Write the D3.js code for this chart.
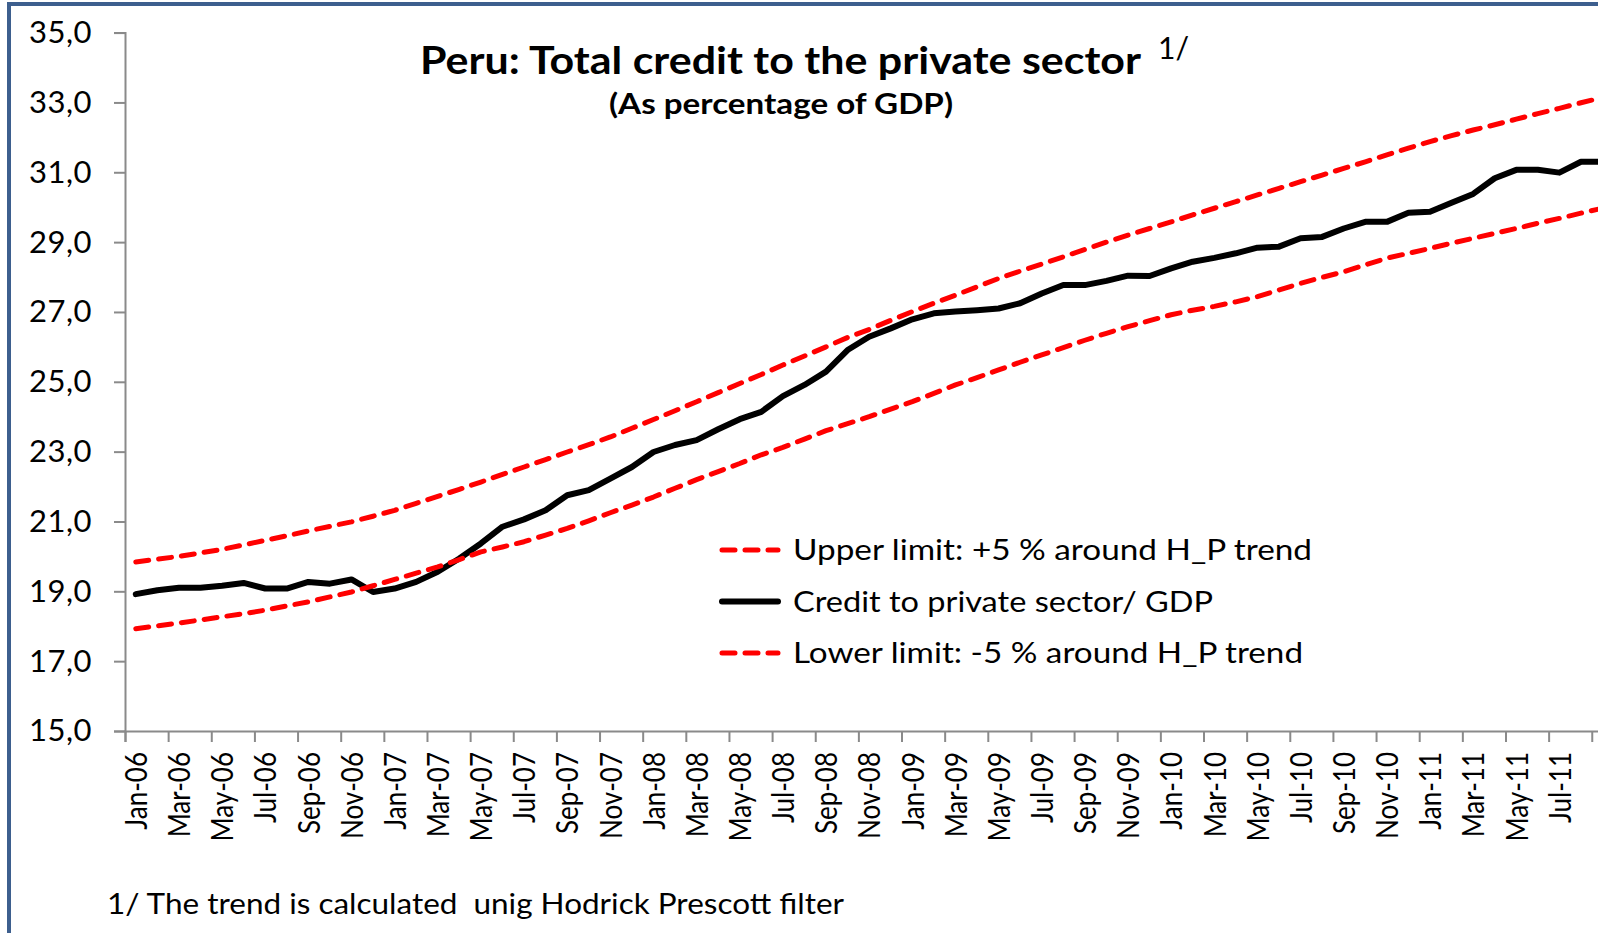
<!DOCTYPE html>
<html>
<head>
<meta charset="utf-8">
<script src="https://cdn.jsdelivr.net/npm/d3@7"></script>
<style>
  body { margin: 0; background: #fff; }
  svg { display: block; }
  text { font-family: Lato, "Open Sans", sans-serif; fill: #000; }
</style>
</head>
<body>
<svg id="chart" width="1598" height="933"></svg>
<script>
// monthly categories, Jan-06 .. Sep-11
const categories = [
  "Jan-06","Feb-06","Mar-06","Apr-06","May-06","Jun-06","Jul-06","Aug-06","Sep-06","Oct-06","Nov-06","Dec-06",
  "Jan-07","Feb-07","Mar-07","Apr-07","May-07","Jun-07","Jul-07","Aug-07","Sep-07","Oct-07","Nov-07","Dec-07",
  "Jan-08","Feb-08","Mar-08","Apr-08","May-08","Jun-08","Jul-08","Aug-08","Sep-08","Oct-08","Nov-08","Dec-08",
  "Jan-09","Feb-09","Mar-09","Apr-09","May-09","Jun-09","Jul-09","Aug-09","Sep-09","Oct-09","Nov-09","Dec-09",
  "Jan-10","Feb-10","Mar-10","Apr-10","May-10","Jun-10","Jul-10","Aug-10","Sep-10","Oct-10","Nov-10","Dec-10",
  "Jan-11","Feb-11","Mar-11","Apr-11","May-11","Jun-11","Jul-11","Aug-11","Sep-11"
];

const tickLabels = [
  "Jan-06","Mar-06","May-06","Jul-06","Sep-06","Nov-06",
  "Jan-07","Mar-07","May-07","Jul-07","Sep-07","Nov-07",
  "Jan-08","Mar-08","May-08","Jul-08","Sep-08","Nov-08",
  "Jan-09","Mar-09","May-09","Jul-09","Sep-09","Nov-09",
  "Jan-10","Mar-10","May-10","Jul-10","Sep-10","Nov-10",
  "Jan-11","Mar-11","May-11","Jul-11"
];

const yTicks = [15, 17, 19, 21, 23, 25, 27, 29, 31, 33, 35];

const upper = [
  19.84, 19.92, 20.00, 20.10, 20.20, 20.33, 20.46, 20.59, 20.73, 20.86, 20.99, 21.15,
  21.32, 21.52, 21.72, 21.92, 22.13, 22.35, 22.56, 22.77, 22.99, 23.20, 23.42, 23.67,
  23.92, 24.17, 24.43, 24.69, 24.95, 25.21, 25.48, 25.74, 26.00, 26.27, 26.50, 26.76,
  27.01, 27.25, 27.48, 27.72, 27.96, 28.17, 28.37, 28.58, 28.79, 29.00, 29.20, 29.39,
  29.58, 29.78, 29.97, 30.16, 30.35, 30.54, 30.73, 30.92, 31.11, 31.30, 31.50, 31.69,
  31.88, 32.05, 32.21, 32.36, 32.52, 32.68, 32.83, 32.99, 33.14
];

const credit = [
  18.92, 19.03, 19.10, 19.10, 19.16, 19.24, 19.08, 19.08, 19.27, 19.22, 19.34, 18.98,
  19.08, 19.27, 19.56, 19.94, 20.37, 20.85, 21.06, 21.32, 21.75, 21.90, 22.23, 22.56,
  22.99, 23.19, 23.33, 23.64, 23.93, 24.14, 24.59, 24.91, 25.29, 25.91, 26.29, 26.53,
  26.79, 26.96, 27.01, 27.05, 27.10, 27.25, 27.53, 27.77, 27.77, 27.89, 28.04, 28.03,
  28.25, 28.44, 28.55, 28.68, 28.84, 28.87, 29.11, 29.15, 29.39, 29.58, 29.58, 29.84,
  29.87, 30.13, 30.38, 30.83, 31.07, 31.07, 30.99, 31.30, 31.30
];

const lower = [
  17.93, 18.01, 18.09, 18.18, 18.27, 18.36, 18.46, 18.58, 18.70, 18.84, 18.98, 19.16,
  19.34, 19.52, 19.70, 19.91, 20.13, 20.27, 20.42, 20.61, 20.80, 21.02, 21.25, 21.47,
  21.70, 21.95, 22.20, 22.43, 22.66, 22.91, 23.12, 23.36, 23.60, 23.80, 24.00, 24.22,
  24.43, 24.67, 24.91, 25.12, 25.34, 25.56, 25.77, 25.98, 26.19, 26.39, 26.58, 26.75,
  26.92, 27.05, 27.16, 27.29, 27.44, 27.63, 27.82, 27.99, 28.15, 28.35, 28.54, 28.68,
  28.82, 28.97, 29.11, 29.25, 29.39, 29.54, 29.68, 29.83, 29.97
];

const width = 1598, height = 933;
const plotLeft = 125, plotBottom = 731, plotTop = 32.6, step = 21.57;

const svg = d3.select("#chart");

// frame
svg.append("rect")
  .attr("x", 9).attr("y", 4)
  .attr("width", width).attr("height", height)
  .attr("fill", "#fff")
  .attr("stroke", "#3d5f8e")
  .attr("stroke-width", 4);

const x = d3.scaleLinear()
  .domain([0, categories.length])
  .range([plotLeft, plotLeft + step * categories.length]);

const y = d3.scaleLinear()
  .domain([15, 35])
  .range([plotBottom, plotTop]);

const comma = d3.formatLocale({ decimal: ",", thousands: ".", grouping: [3], currency: ["", ""] }).format(".1f");

// y axis
const yAxis = svg.append("g")
  .attr("transform", "translate(" + plotLeft + ",0)")
  .call(d3.axisLeft(y).tickValues(yTicks).tickFormat(comma).tickSize(11).tickPadding(22));
yAxis.selectAll("text").style("font-size", "31px").style("letter-spacing", "0.5px");

// x axis: tick marks between categories, every two months
const xAxis = svg.append("g")
  .attr("transform", "translate(0," + plotBottom + ")")
  .call(d3.axisBottom(x).tickValues(d3.range(0, categories.length, 2)).tickFormat("").tickSize(11));

// x labels at category centres
const xLabels = svg.append("g")
  .attr("transform", "translate(0," + plotBottom + ")")
  .call(d3.axisBottom(x)
    .tickValues(tickLabels.map(l => categories.indexOf(l) + 0.5))
    .tickFormat(v => categories[Math.floor(v)])
    .tickSize(0));
xLabels.select(".domain").remove();
xLabels.selectAll("text")
  .attr("transform", "rotate(-90) scale(1,1.15)")
  .attr("x", -21)
  .attr("y", 0)
  .attr("dy", "0.36em")
  .style("text-anchor", "end")
  .style("font-size", "26px");

svg.selectAll(".domain, .tick line")
  .attr("stroke", "#8a8a8a")
  .attr("stroke-width", 2);
svg.selectAll(".tick text").attr("fill", "#000");

// series
const line = d3.line()
  .x((d, i) => x(i + 0.5))
  .y(d => y(d));

const series = [
  { name: "Upper limit: +5 % around H_P trend", values: upper, color: "#ff0000", dash: "13,10", w: 5, len: 519 },
  { name: "Credit to private sector/ GDP", values: credit, color: "#000", dash: null, w: 6, len: 420 },
  { name: "Lower limit: -5 % around H_P trend", values: lower, color: "#ff0000", dash: "13,10", w: 5, len: 510 }
];

series.forEach(s => {
  svg.append("path")
    .datum(s.values)
    .attr("d", line)
    .attr("fill", "none")
    .attr("stroke", s.color)
    .attr("stroke-width", s.w)
    .attr("stroke-linejoin", "round")
    .attr("stroke-linecap", "round")
    .attr("stroke-dasharray", s.dash);
});

// legend
const legend = svg.append("g").attr("transform", "translate(722,550)");
series.forEach((s, i) => {
  const row = legend.append("g").attr("transform", "translate(0," + (i * 51.5) + ")");
  row.append("line")
    .attr("x1", 0).attr("x2", 56)
    .attr("stroke", s.color)
    .attr("stroke-width", s.w)
    .attr("stroke-linecap", "round")
    .attr("stroke-dasharray", s.dash);
  row.append("text")
    .attr("x", 71).attr("y", 10)
    .attr("textLength", s.len)
    .attr("lengthAdjust", "spacingAndGlyphs")
    .style("font-size", "29px")
    .text(s.name);
});

// titles
svg.append("text")
  .attr("x", 420).attr("y", 74)
  .attr("textLength", 721)
  .attr("lengthAdjust", "spacingAndGlyphs")
  .style("font-size", "38px").style("font-weight", 700)
  .text("Peru: Total credit to the private sector");
svg.append("text")
  .attr("x", 1158).attr("y", 59)
  .style("font-size", "30px")
  .text("1/");
svg.append("text")
  .attr("x", 609).attr("y", 114)
  .attr("textLength", 344)
  .attr("lengthAdjust", "spacingAndGlyphs")
  .style("font-size", "28px").style("font-weight", 700)
  .text("(As percentage of GDP)");

// footnote
svg.append("text")
  .attr("x", 107).attr("y", 914)
  .attr("textLength", 737)
  .attr("lengthAdjust", "spacingAndGlyphs")
  .style("font-size", "28px")
  .style("white-space", "pre")
  .text("1/ The trend is calculated  unig Hodrick Prescott filter");
</script>
</body>
</html>
